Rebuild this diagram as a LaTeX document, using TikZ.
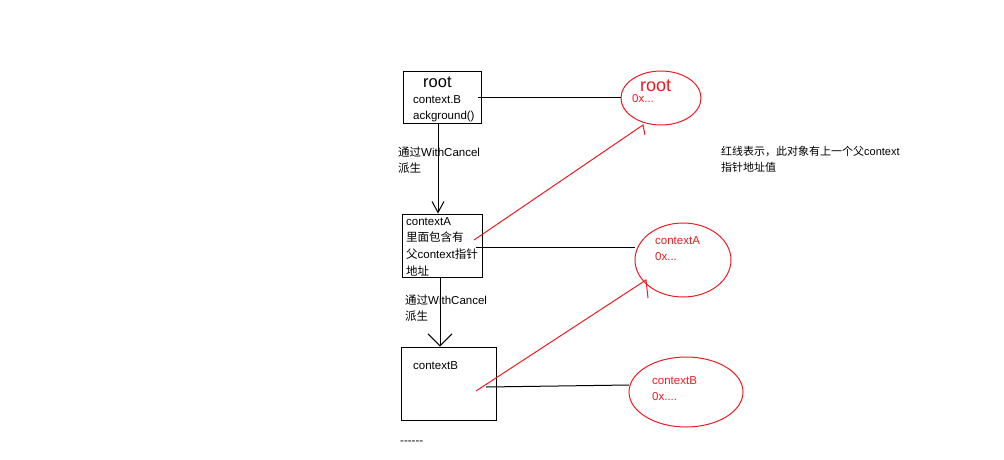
\documentclass[tikz,border=0pt]{standalone}
\usepackage{fontspec}
\setmainfont{Liberation Sans}
\newfontfamily\cjk{Noto Sans CJK SC}
\usetikzlibrary{arrows.meta,shapes.geometric}
\definecolor{pred}{HTML}{ED1C24}
\begin{document}
\begin{tikzpicture}[x=1pt,y=-1pt,
  box/.style={draw=black,line width=1pt,inner sep=0pt},
  bubble/.style={draw=pred,ellipse,line width=1pt,inner sep=0pt},
  txt/.style={anchor=base west,inner sep=0pt,font=\fontsize{11.5}{14}\selectfont},
  rtxt/.style={txt,text=pred},
  link/.style={draw=black,line width=1pt},
  derive/.style={draw=black,line width=1pt,-{Straight Barb[length=11pt,width=12pt,line width=1pt]}},
  deriveB/.style={draw=black,line width=1pt,-{Straight Barb[length=12pt,width=24pt,line width=1pt]}},
  redlink/.style={draw=pred,line width=1pt}]
\fill[white] (0,0) rectangle (1004,459);
\useasboundingbox (0,0) rectangle (1004,459);

% boxes
\node[box,minimum width=78pt,minimum height=52pt] (rootbox) at (442,97) {};
\node[box,minimum width=80pt,minimum height=63pt] (boxA) at (442,245.5) {};
\node[box,minimum width=95pt,minimum height=73pt] (boxB) at (448.5,383.5) {};

% ellipses
\node[bubble,minimum width=80pt,minimum height=54pt] (ellR) at (661,98) {};
\node[bubble,minimum width=96pt,minimum height=74pt] (ellA) at (683,260) {};
\node[bubble,minimum width=114pt,minimum height=70pt] (ellB) at (686,392) {};

% box texts
\node[txt,font=\fontsize{16.5}{18}\selectfont] (tRoot) at (423,87) {root};
\node[txt] (tCB1) at (413,103) {context.B};
\node[txt] (tCB2) at (413,119) {ackground()};

\node[txt] (tA1) at (406,225) {contextA};
\node[txt] (tA2) at (406,241) {\cjk 里面包含有};
\node[txt] (tA3) at (406,258) {\cjk 父\rmfamily context\cjk 指针};
\node[txt] (tA4) at (406,275) {\cjk 地址};

\node[txt] (tB1) at (413,369) {contextB};

% derive labels
\node[txt] (l1a) at (398,156) {\cjk 通过\rmfamily WithCancel};
\node[txt] (l1b) at (398,172) {\cjk 派生};
\node[txt] (l2a) at (405,304) {\cjk 通过\rmfamily WithCancel};
\node[txt] (l2b) at (405,320) {\cjk 派生};

% ellipse texts
\node[rtxt,font=\fontsize{18}{20}\selectfont] (eR1) at (640,91) {root};
\node[rtxt] (eR2) at (632,102) {0x...};
\node[rtxt] (eA1) at (655,244) {contextA};
\node[rtxt] (eA2) at (655,260) {0x...};
\node[rtxt] (eB1) at (652,384) {contextB};
\node[rtxt] (eB2) at (652,400) {0x....};

% dots and note
\node[txt] (dots) at (400,444) {\mbox{-}\mbox{-}\mbox{-}\mbox{-}\mbox{-}\mbox{-}};
\node[txt,font=\fontsize{11}{14}\selectfont] (note1) at (721,155) {\cjk 红线表示，此对象有上一个父\rmfamily context};
\node[txt,font=\fontsize{11}{14}\selectfont] (note2) at (721,171) {\cjk 指针地址值};

% black links
\coordinate (rL) at (478,97);
\draw[link] (rL) -- (rL -| ellR.west);
\coordinate (aL) at (476,247);
\draw[link] (aL) -- (aL -| ellA.west);
\coordinate (bL) at (486,387);
\coordinate (bR) at (629,385);
\draw[link] (bL) -- (bR);

% derive arrows
\draw[derive] ([xshift=-4pt]rootbox.south) -- ([xshift=-4pt]boxA.north);
\draw[deriveB] ([xshift=-2pt]boxA.south) -- ([xshift=-8.5pt]boxB.north);

% red links
\coordinate (rA) at (474,240);
\coordinate (tipR) at (643,125);
\coordinate (tickR) at (645,135);
\draw[redlink] (rA) -- (tipR) -- (tickR);
\coordinate (rB) at (476,391);
\coordinate (tipA) at (646,280);
\coordinate (tickA) at (648,298);
\draw[redlink] (rB) -- (tipA) -- (tickA);
\end{tikzpicture}
\end{document}
